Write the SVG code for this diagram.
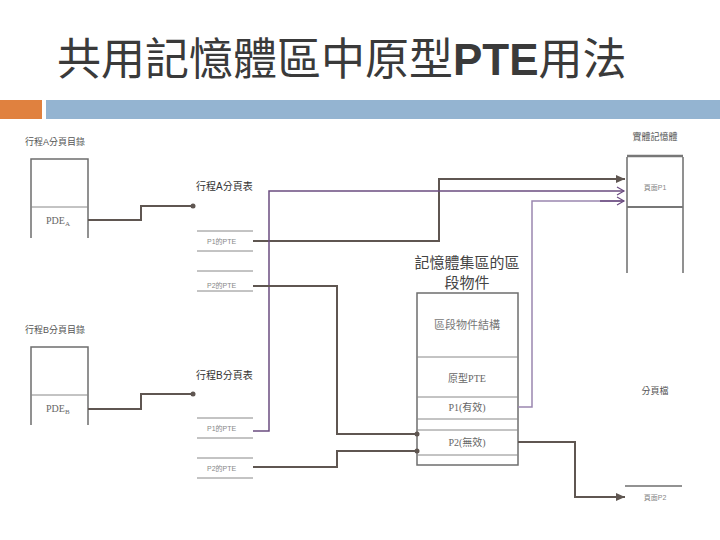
<svg xmlns="http://www.w3.org/2000/svg" width="720" height="540" viewBox="0 0 720 540">
<style>
.t{font-family:"Liberation Sans","Noto Sans CJK TC",sans-serif;}
.title{font-size:44px;fill:#3a3a3a;}
.lbl{font-size:9px;fill:#555;}
.lbl2{font-size:10px;fill:#333;}
.sm{font-size:7px;fill:#888;}
.box{fill:none;stroke:#6e6e6e;stroke-width:1.5;}
.row{stroke:#888;stroke-width:1;}
.cell{font-size:10px;fill:#666;font-family:"Liberation Serif","Noto Sans CJK TC",serif;}
.br{fill:none;stroke:#5f5651;stroke-width:2;}
.pu{fill:none;stroke:#6b4c80;stroke-width:1.5;}
.pu2{fill:none;stroke:#9a86b0;stroke-width:1.5;}
</style>
<defs>
<marker id="dot" markerWidth="6" markerHeight="6" refX="3" refY="3" markerUnits="userSpaceOnUse"><circle cx="3" cy="3" r="2.5" fill="#5f5651"/></marker>
<marker id="arf" markerWidth="10" markerHeight="8" refX="9" refY="4" markerUnits="userSpaceOnUse" orient="auto"><path d="M0,0 L9,4 L0,8 Z" fill="#5f5651"/></marker>
<marker id="aro" markerWidth="10" markerHeight="10" refX="8" refY="5" markerUnits="userSpaceOnUse" orient="auto"><path d="M1,1 L8,5 L1,9" fill="none" stroke="#6b4c80" stroke-width="1.2"/></marker>
</defs>
<rect width="720" height="540" fill="#fff"/>
<g id="header">
<text class="t title" x="57" y="75">共用記憶體區中原型<tspan font-weight="bold">PTE</tspan>用法</text>
<rect x="0" y="100" width="42" height="19" fill="#E0813F"/>
<rect x="46" y="100" width="674" height="19" fill="#94B4D1"/>
</g>
<g id="pdA">
<text class="t lbl" x="25" y="145">行程A分頁目錄</text>
<path class="box" d="M31,238 V159 H88 V238"/>
<line class="row" x1="31" y1="207" x2="88" y2="207"/>
<text class="cell" x="46" y="224">PDE<tspan font-size="7" dy="2">A</tspan></text>
</g>
<g id="pdB">
<text class="t lbl" x="25" y="333">行程B分頁目錄</text>
<path class="box" d="M31,425 V347 H88 V425"/>
<line class="row" x1="31" y1="395" x2="88" y2="395"/>
<text class="cell" x="46" y="412">PDE<tspan font-size="7" dy="2">B</tspan></text>
</g>
<g id="ptA">
<text class="t lbl2" x="196" y="190">行程A分頁表</text>
<line class="row" x1="197" y1="231" x2="253" y2="231"/>
<line class="row" x1="197" y1="251" x2="253" y2="251"/>
<line class="row" x1="197" y1="271" x2="253" y2="271"/>
<line class="row" x1="197" y1="291" x2="253" y2="291"/>
<text class="t sm" x="207" y="244">P1的PTE</text>
<text class="t sm" x="207" y="288">P2的PTE</text>
</g>
<g id="ptB">
<text class="t lbl2" x="196" y="379">行程B分頁表</text>
<line class="row" x1="197" y1="418" x2="253" y2="418"/>
<line class="row" x1="197" y1="438" x2="253" y2="438"/>
<line class="row" x1="197" y1="458" x2="253" y2="458"/>
<line class="row" x1="197" y1="478" x2="253" y2="478"/>
<text class="t sm" x="207" y="431">P1的PTE</text>
<text class="t sm" x="207" y="471">P2的PTE</text>
</g>
<g id="proto">
<text class="t" x="467" y="268" font-size="15" fill="#444" text-anchor="middle">記憶體集區的區</text>
<text class="t" x="467" y="288" font-size="15" fill="#444" text-anchor="middle">段物件</text>
<rect class="box" x="417" y="293" width="101" height="172"/>
<line class="row" x1="417" y1="357" x2="518" y2="357"/>
<line class="row" x1="417" y1="397" x2="518" y2="397"/>
<line class="row" x1="417" y1="419" x2="518" y2="419"/>
<line class="row" x1="417" y1="430" x2="518" y2="430"/>
<line class="row" x1="417" y1="455" x2="518" y2="455"/>
<text class="t" x="467" y="329" font-size="11" fill="#777" text-anchor="middle">區段物件結構</text>
<text class="cell" x="467" y="382" text-anchor="middle">原型PTE</text>
<text class="cell" x="467" y="411" text-anchor="middle">P1(有效)</text>
<text class="cell" x="467" y="446" text-anchor="middle">P2(無效)</text>
</g>
<g id="phys">
<text class="t lbl" x="655" y="140" text-anchor="middle">實體記憶體</text>
<path fill="none" stroke="#6e6e6e" stroke-width="1.5" d="M627,273 V157 M683,157 V273"/>
<line x1="627" y1="156" x2="683" y2="156" stroke="#777" stroke-width="2.5"/>
<line x1="627" y1="207" x2="683" y2="207" stroke="#777" stroke-width="2"/>
<text class="t sm" x="655" y="190" text-anchor="middle">頁面P1</text>
</g>
<g id="pagefile">
<text class="t lbl" x="655" y="394" text-anchor="middle">分頁檔</text>
<line x1="625" y1="486" x2="682" y2="486" stroke="#6e6e6e" stroke-width="1.5"/>
<text class="t sm" x="655" y="500" text-anchor="middle">頁面P2</text>
</g>
<g id="connectors">
<polyline class="br" points="88,220 141,220 141,206 193,206" marker-end="url(#dot)"/>
<polyline class="br" points="88,409 141,409 141,394 193,394" marker-end="url(#dot)"/>
<polyline class="br" points="253,241 439,241 439,179 625,179" marker-end="url(#arf)"/>
<polyline class="pu" points="253,431 269,431 269,191 624,191" marker-end="url(#aro)"/>
<polyline class="pu2" points="518,407 532,407 532,201 624,201"/>
<polyline class="pu" points="600,201 624,201" marker-end="url(#aro)"/>
<polyline class="br" points="253,286 337,286 337,434 417,434" marker-end="url(#dot)"/>
<polyline class="br" points="253,467 337,467 337,451 417,451" marker-end="url(#dot)"/>
<polyline class="br" points="518,442 575,442 575,497 625,497" marker-end="url(#arf)"/>
</g>
</svg>
